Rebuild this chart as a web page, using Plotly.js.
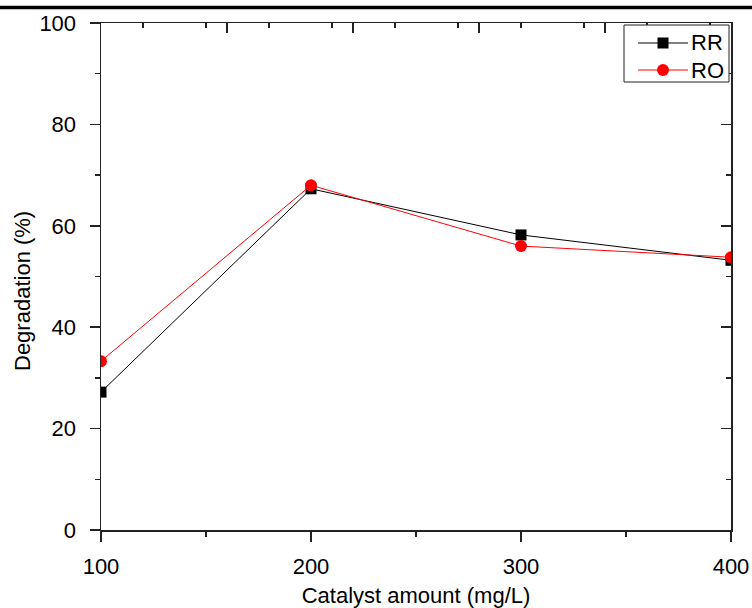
<!DOCTYPE html>
<html>
<head>
<meta charset="utf-8">
<script src="https://cdn.plot.ly/plotly-3.0.1.min.js"></script>
<style>html,body{margin:0;padding:0;background:#fff;}#chart{width:752px;height:608px;}</style>
</head>
<body>
<div id="chart"></div>
<script>
const catalyst = [100, 200, 300, 400];
const rrValues = [27.2, 67.3, 58.2, 53.2];
const roValues = [33.3, 68.0, 56.0, 53.8];
const seriesNames = ['RR', 'RO'];
const seriesColors = ['#000000', '#ff0000'];
const xTitle = 'Catalyst amount (mg/L)';
const yTitle = 'Degradation (%)';

const FONT = 'Liberation Sans, Arial, sans-serif';
const FS = 22;
const AX = '#222';

// plot-area geometry in pixels (for converting the hand-drawn legend box)
const M = {l: 101, r: 21, t: 23, b: 78};
const W = 752, H = 608;
const PW = W - M.l - M.r, PH = H - M.t - M.b;
const px = v => (v - M.l) / PW;
const py = v => (H - M.b - v) / PH;

const traces = [
  {x: catalyst, y: rrValues, name: seriesNames[0], type: 'scatter', mode: 'lines+markers',
   line: {color: seriesColors[0], width: 1}, marker: {symbol: 'square', size: 11, color: seriesColors[0]}},
  {x: catalyst, y: roValues, name: seriesNames[1], type: 'scatter', mode: 'lines+markers',
   line: {color: seriesColors[1], width: 1}, marker: {symbol: 'circle', size: 12, color: seriesColors[1]}},
  {x: [catalyst[0]], y: [0], xaxis: 'x2', yaxis: 'y2', type: 'scatter', mode: 'markers',
   marker: {opacity: 0}, showlegend: false, hoverinfo: 'skip'}
];

// legend (drawn by hand to match the reference box)
const legRows = [43, 70];
const legShapes = [
  {type: 'rect', xref: 'paper', yref: 'paper', x0: px(624), x1: px(729), y0: py(82), y1: py(25),
   line: {color: AX, width: 1}, fillcolor: '#fff', layer: 'above'}
];
const legAnn = [];
seriesNames.forEach((n, i) => {
  const yy = legRows[i];
  legShapes.push({type: 'line', xref: 'paper', yref: 'paper', x0: px(638), x1: px(688), y0: py(yy), y1: py(yy),
                  line: {color: seriesColors[i], width: 1}, layer: 'above'});
  const r = i === 0 ? 5.5 : 6;
  legShapes.push({type: i === 0 ? 'rect' : 'circle', xref: 'paper', yref: 'paper',
                  x0: px(663 - r), x1: px(663 + r), y0: py(yy + r), y1: py(yy - r),
                  line: {color: seriesColors[i], width: 0}, fillcolor: seriesColors[i], layer: 'above'});
  legAnn.push({text: n, xref: 'paper', yref: 'paper', x: px(689), y: py(yy), xanchor: 'left', yanchor: 'middle',
               showarrow: false, font: {family: FONT, size: FS, color: '#000'}});
});

const layout = {
  width: W, height: H,
  margin: M,
  paper_bgcolor: '#fff', plot_bgcolor: '#fff',
  font: {family: FONT, size: FS, color: '#000'},
  showlegend: false,
  xaxis: {range: [100, 400], tickmode: 'linear', tick0: 100, dtick: 100,
          ticks: 'outside', ticklen: 10, tickwidth: 1.5, tickcolor: AX,
          minor: {dtick: 50, ticks: 'outside', ticklen: 5, tickwidth: 1.5, tickcolor: AX, showgrid: false},
          showline: true, linecolor: AX, linewidth: 1.5, showgrid: false, zeroline: false,
          ticklabelstandoff: 6,
          title: {text: xTitle, font: {family: FONT, size: FS}, standoff: 16}},
  yaxis: {range: [0, 100], tickmode: 'linear', tick0: 0, dtick: 20,
          ticks: 'outside', ticklen: 10, tickwidth: 1.5, tickcolor: AX,
          minor: {dtick: 10, ticks: 'outside', ticklen: 5, tickwidth: 1.5, tickcolor: AX, showgrid: false},
          showline: true, linecolor: AX, linewidth: 1.5, showgrid: false, zeroline: false,
          ticklabelstandoff: 9, title: {text: ''}},
  xaxis2: {overlaying: 'x', side: 'top', anchor: 'y', range: [100, 400],
           tickmode: 'linear', tick0: 100, dtick: 60,
           ticks: 'inside', ticklen: 10, tickwidth: 1.5, tickcolor: AX,
           minor: {dtick: 30, ticks: 'inside', ticklen: 5, tickwidth: 1.5, tickcolor: AX, showgrid: false},
           showticklabels: false, showline: true, linecolor: AX, linewidth: 1.5,
           showgrid: false, zeroline: false},
  yaxis2: {overlaying: 'y', side: 'right', anchor: 'x', range: [0, 100],
           tickmode: 'linear', tick0: 0, dtick: 20,
           ticks: 'inside', ticklen: 10, tickwidth: 1.5, tickcolor: AX,
           minor: {dtick: 10, ticks: 'inside', ticklen: 5, tickwidth: 1.5, tickcolor: AX, showgrid: false},
           showticklabels: false, showline: true, linecolor: AX, linewidth: 1.5,
           showgrid: false, zeroline: false},
  annotations: [
    {text: yTitle, textangle: -90, xref: 'paper', yref: 'paper',
     x: px(22), y: py(291), xanchor: 'center', yanchor: 'middle', showarrow: false,
     font: {family: FONT, size: FS, color: '#000'}}
  ].concat(legAnn),
  shapes: [
    {type: 'line', xref: 'paper', yref: 'paper', x0: px(0), x1: px(752), y0: py(7.5), y1: py(7.5),
     line: {color: '#000', width: 3.5}}
  ].concat(legShapes)
};

Plotly.newPlot('chart', traces, layout, {displayModeBar: false, staticPlot: true});
</script>
</body>
</html>
